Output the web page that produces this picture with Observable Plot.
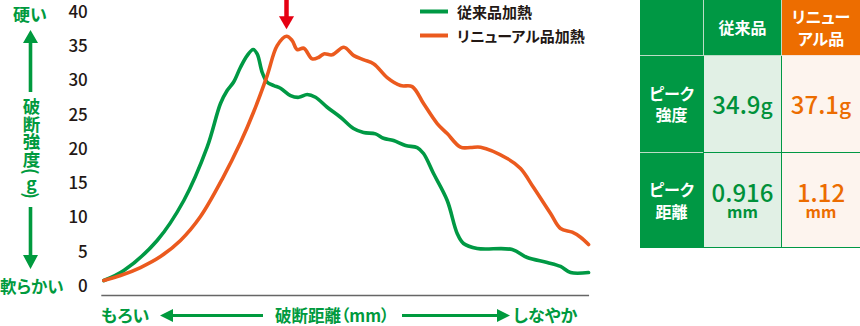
<!DOCTYPE html>
<html lang="ja">
<head>
<meta charset="utf-8">
<script src="https://cdn.jsdelivr.net/npm/d3@7"></script>
<script src="https://cdn.jsdelivr.net/npm/@observablehq/plot@0.6"></script>
<style>
  html, body { margin: 0; padding: 0; background: #fff; }
  body { font-family: "Noto Sans CJK JP", "Noto Sans", sans-serif; }
  #wrap { position: relative; width: 860px; height: 326px; overflow: hidden; }
  #chart { position: absolute; left: 0; top: 0; }
  .abs { position: absolute; white-space: nowrap; }
  .gtxt { color: #009a3e; font-weight: 700; font-feature-settings: "palt"; }
  .legend { font-size: 15px; font-weight: 700; color: #231815; font-feature-settings: "palt"; line-height: 1; }
  .cell { position: absolute; display: flex; flex-direction: column; align-items: center; justify-content: center; text-align: center; }
  .hdr { color: #fff; font-weight: 700; font-size: 16px; line-height: 21.5px; font-feature-settings: "palt"; }
  .val { font-weight: 500; font-size: 24px; line-height: 22px; }
  .unit { font-weight: 700; font-size: 16px; line-height: 16px; }
</style>
</head>
<body>
<div id="wrap">
  <div id="chart"></div>
</div>
<script>
// ---- data ----
const seriesNames = ["従来品加熱", "リニューアル品加熱"];
const seriesColors = ["#009944", "#eb5a1e"];

// 従来品加熱: distance (mm) and breaking strength (g)
const distGreen = [0.024, 0.144, 0.344, 0.504, 0.644, 0.724, 0.764, 0.802, 0.844, 0.884, 0.920, 0.944, 0.974, 1.004, 1.044, 1.084, 1.144, 1.194, 1.244, 1.294, 1.364, 1.444, 1.522, 1.582, 1.654, 1.702, 1.762, 1.834, 1.904, 1.942, 2.002, 2.084, 2.144, 2.182, 2.264, 2.474, 2.564, 2.684, 2.764, 2.824, 2.932];
const strengthGreen = [0.87, 2.33, 6.71, 12.54, 20.31, 26.68, 28.57, 29.78, 31.97, 33.67, 34.55, 33.92, 31.24, 29.78, 29.30, 28.91, 27.84, 27.59, 27.99, 27.59, 26.14, 24.68, 23.03, 22.45, 22.26, 21.62, 21.28, 20.55, 20.26, 19.39, 16.47, 12.54, 7.73, 6.27, 5.54, 5.39, 4.23, 3.50, 2.92, 2.04, 2.04];

// リニューアル品加熱
const distOrange = [0.024, 0.124, 0.244, 0.364, 0.484, 0.604, 0.736, 0.844, 0.922, 1.004, 1.064, 1.120, 1.154, 1.184, 1.224, 1.274, 1.314, 1.344, 1.394, 1.464, 1.524, 1.584, 1.644, 1.724, 1.804, 1.874, 1.942, 2.024, 2.084, 2.164, 2.224, 2.284, 2.444, 2.524, 2.602, 2.704, 2.764, 2.834, 2.884, 2.932];
const strengthOrange = [0.87, 1.60, 2.77, 4.37, 6.71, 10.2, 15.74, 20.99, 25.41, 30.76, 35.13, 36.49, 35.86, 34.55, 34.74, 33.19, 33.43, 33.92, 33.78, 34.88, 33.67, 33.05, 32.46, 30.47, 29.30, 29.15, 26.68, 23.76, 22.30, 20.31, 20.26, 20.31, 18.66, 17.20, 14.43, 10.64, 8.45, 7.92, 7.19, 6.12];

const yTicks = [0, 5, 10, 15, 20, 25, 30, 35, 40];

// table
const tableCols = ["従来品", "リニューアル品"];
const peakStrength = ["34.9", "37.1"];
const peakDistance = ["0.916", "1.12"];
const rowLabels = [["ピーク", "強度"], ["ピーク", "距離"]];

// ---- build ----
const rows = [
  ...distGreen.map((d, i) => ({series: seriesNames[0], x: d, y: strengthGreen[i]})),
  ...distOrange.map((d, i) => ({series: seriesNames[1], x: d, y: strengthOrange[i]}))
];
const xMin = d3.min(rows, d => d.x);
const xMax = d3.max(rows, d => d.x);
const renewalPeakX = +peakDistance[1];

const plot = Plot.plot({
  width: 630,
  height: 326,
  marginLeft: 99.3,
  marginRight: 30.6,
  marginTop: 11.7,
  marginBottom: 40,
  style: {fontFamily: "'Noto Sans CJK JP', sans-serif", background: "transparent", overflow: "visible"},
  x: {domain: [0, 3], axis: null},
  y: {domain: [0, 40], ticks: yTicks, label: null},
  color: {domain: seriesNames, range: seriesColors},
  marks: [
    Plot.axisY({ticks: yTicks, tickSize: 0, tickPadding: 12, fontSize: 17, fontWeight: 500, fill: "#231815", label: null}),
    Plot.ruleY([0], {x1: xMin - 0.012, x2: xMax + 0.006, dy: 9, stroke: "#666", strokeWidth: 1.6}),
    Plot.line(rows, {x: "x", y: "y", z: "series", stroke: "series", strokeWidth: 3.6, curve: "catmull-rom", strokeLinejoin: "round", strokeLinecap: "round"}),
    Plot.ruleX([renewalPeakX], {y1: 42, y2: 39.2, stroke: "#e60012", strokeWidth: 4.5}),
    Plot.dot([renewalPeakX], {x: d => d, frameAnchor: "top", dy: 8.4, symbol: "triangle", r: 5.6, rotate: 180, fill: "#e60012", stroke: "none"})
  ]
});
document.getElementById("chart").appendChild(plot);

const wrap = document.getElementById("wrap");
function add(html) { wrap.insertAdjacentHTML("beforeend", html); }

// legend
add(`<svg class="abs" style="left:418px;top:0" width="34" height="48">
  <line x1="2" x2="30" y1="11.5" y2="11.5" stroke="${seriesColors[0]}" stroke-width="4"/>
  <line x1="2" x2="30" y1="35.5" y2="35.5" stroke="${seriesColors[1]}" stroke-width="4"/>
</svg>`);
add(`<div class="abs legend" style="left:457px;top:4px">${seriesNames[0]}</div>`);
add(`<div class="abs legend" style="left:457px;top:28px">${seriesNames[1]}</div>`);

// left axis annotation
add(`<div class="abs gtxt" style="left:13px;top:4px;font-size:17px;line-height:20px">硬い</div>`);
add(`<div class="abs gtxt" style="left:0px;top:276px;font-size:16.5px;line-height:20px">軟らかい</div>`);
add(`<div class="abs gtxt" style="left:21px;top:98px;font-size:17.5px;line-height:20px;writing-mode:vertical-rl;text-orientation:mixed">破断強度(<span style="text-orientation:upright">g</span>)</div>`);
add(`<svg class="abs" style="left:0;top:0" width="70" height="300">
  <path d="M30.5,30 L38,43 L32.3,43 L32.3,92 L28.7,92 L28.7,43 L23,43 Z" fill="#009a3e"/>
  <path d="M30.5,269 L38,255 L32.3,255 L32.3,207 L28.7,207 L28.7,255 L23,255 Z" fill="#009a3e"/>
</svg>`);

// bottom axis annotation
add(`<div class="abs gtxt" style="left:101px;top:305px;font-size:17px;line-height:20px">もろい</div>`);
add(`<div class="abs gtxt" style="left:275px;top:305px;font-size:16.5px;line-height:20px">破断距離（mm）</div>`);
add(`<div class="abs gtxt" style="left:513px;top:305px;font-size:17px;line-height:20px">しなやか</div>`);
add(`<svg class="abs" style="left:150px;top:300px" width="370" height="26">
  <path d="M10,15.5 L23,9 L23,14 L113,14 L113,17 L23,17 L23,22 Z" fill="#009a3e"/>
  <path d="M360,15.5 L347,9 L347,14 L252,14 L252,17 L347,17 L347,22 Z" fill="#009a3e"/>
</svg>`);

// table
const G = "#009844", O = "#ed6d00", LG = "#e1f0e5", LO = "#fdf4ee", LINE = "#bcdcc6";
const vGreen = "#00913a", vOrange = "#ec6c00";
let t = `<div class="abs" style="left:640px;top:0;width:220px;height:248px;background:${LINE}">`;
const cell = (x, y, w, h, bg, inner, cls = "") =>
  `<div class="cell ${cls}" style="left:${x}px;top:${y}px;width:${w}px;height:${h}px;background:${bg}">${inner}</div>`;
t += cell(0, 0, 63, 55, G, "");
t += cell(64, 0, 77, 55, G, `<div>${tableCols[0]}</div>`, "hdr");
t += cell(142, 0, 78, 55, O, `<div>リニュー</div><div>アル品</div>`, "hdr");
t += cell(0, 56, 63, 96, G, rowLabels[0].map(s => `<div>${s}</div>`).join(""), "hdr");
t += cell(0, 153, 63, 95, G, rowLabels[1].map(s => `<div>${s}</div>`).join(""), "hdr");
// green separators between light cells
t += `<div class="abs" style="left:63px;top:56px;width:157px;height:192px;background:${G}"></div>`;
t += cell(64, 56, 77, 96, LG, `<div class="val" style="color:${vGreen}">${peakStrength[0]}<span style="font-size:21px">g</span></div>`);
t += cell(142, 56, 78, 96, LO, `<div class="val" style="color:${vOrange}">${peakStrength[1]}<span style="font-size:21px">g</span></div>`);
t += cell(64, 153, 77, 94, LG, `<div class="val" style="color:${vGreen}">${peakDistance[0]}</div><div class="unit" style="color:${vGreen}">mm</div>`);
t += cell(142, 153, 78, 94, LO, `<div class="val" style="color:${vOrange}">${peakDistance[1]}</div><div class="unit" style="color:${vOrange}">mm</div>`);
// light header separators on top of green
t += `<div class="abs" style="left:142px;top:55px;width:78px;height:1px;background:#f6e2d6"></div>`;
t += `</div>`;
add(t);
</script>
</body>
</html>
